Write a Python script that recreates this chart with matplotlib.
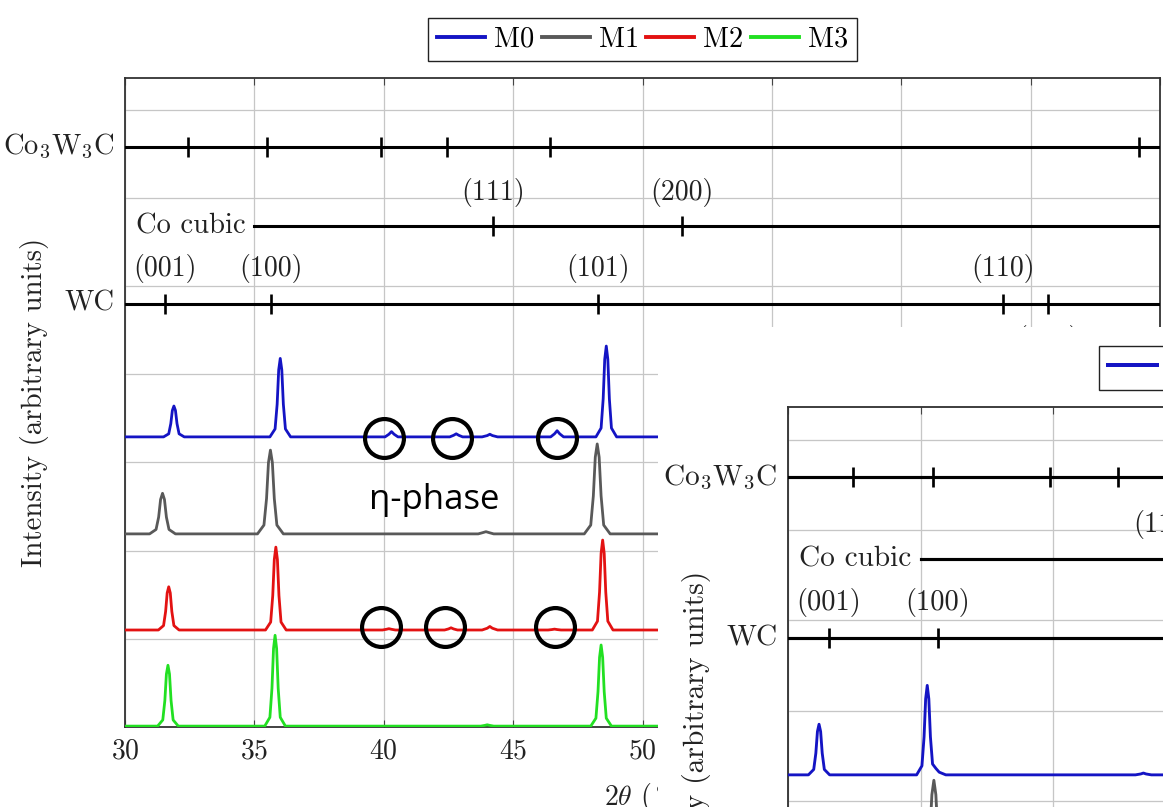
import numpy as np
import matplotlib
matplotlib.use('Agg')
import matplotlib.pyplot as plt
from matplotlib.lines import Line2D

plt.rcParams['font.family'] = 'cmr10'
plt.rcParams['mathtext.fontset'] = 'cm'
plt.rcParams['axes.unicode_minus'] = False
plt.rcParams['axes.formatter.use_mathtext'] = True

# --- data (2theta in degrees, intensity in arbitrary units) ---
names = ['M0', 'M1', 'M2', 'M3']
colors = ['#1414c4', '#595959', '#e31212', '#22e022']
offsets = [3.29, 2.19, 1.10, 0.01]

m0_x = [30, 31.49, 31.69, 31.77, 31.83, 31.89, 31.95, 32.01, 32.09, 32.29,
        35.6, 35.8, 35.88, 35.94, 36.0, 36.06, 36.12, 36.2, 36.4,
        40.05, 40.2, 40.3, 40.4, 40.55,
        42.55, 42.7, 42.8, 42.9, 43.05,
        43.8, 44.0, 44.1, 44.2, 44.4,
        46.45, 46.6, 46.7, 46.8, 46.95,
        48.2, 48.4, 48.48, 48.54, 48.6, 48.66, 48.72, 48.8, 49.0, 52]
m0_y = [0, 0, 0.035, 0.15, 0.30, 0.35, 0.30, 0.15, 0.035, 0,
        0, 0.09, 0.37, 0.76, 0.89, 0.76, 0.37, 0.09, 0,
        0, 0.03, 0.06, 0.03, 0,
        0, 0.018, 0.035, 0.018, 0,
        0, 0.015, 0.03, 0.015, 0,
        0, 0.035, 0.07, 0.035, 0,
        0, 0.1, 0.43, 0.88, 1.03, 0.88, 0.43, 0.1, 0, 0]

m1_x = [30, 30.95, 31.2, 31.3, 31.375, 31.45, 31.525, 31.6, 31.7, 31.95,
        35.12, 35.37, 35.47, 35.545, 35.62, 35.695, 35.77, 35.87, 36.12,
        43.65, 43.8, 43.95, 44.1, 44.25,
        47.75, 48.0, 48.1, 48.175, 48.25, 48.325, 48.4, 48.5, 48.75, 52]
m1_y = [0, 0, 0.05, 0.19, 0.39, 0.46, 0.39, 0.19, 0.05, 0,
        0, 0.1, 0.4, 0.81, 0.95, 0.81, 0.4, 0.1, 0,
        0, 0.012, 0.025, 0.012, 0,
        0, 0.1, 0.43, 0.87, 1.02, 0.87, 0.43, 0.1, 0, 0]

m2_x = [30, 31.29, 31.49, 31.57, 31.63, 31.69, 31.75, 31.81, 31.89, 32.09,
        35.43, 35.63, 35.71, 35.77, 35.83, 35.89, 35.95, 36.03, 36.23,
        39.95, 40.1, 40.2, 40.3, 40.45,
        42.35, 42.5, 42.6, 42.7, 42.85,
        43.8, 44.0, 44.1, 44.2, 44.4,
        46.35, 46.5, 46.6, 46.7, 46.85,
        48.06, 48.26, 48.34, 48.4, 48.46, 48.52, 48.58, 48.66, 48.86, 52]
m2_y = [0, 0, 0.05, 0.21, 0.42, 0.49, 0.42, 0.21, 0.05, 0,
        0, 0.09, 0.39, 0.8, 0.94, 0.8, 0.39, 0.09, 0,
        0, 0.008, 0.015, 0.008, 0,
        0, 0.012, 0.025, 0.012, 0,
        0, 0.02, 0.04, 0.02, 0,
        0, 0.005, 0.01, 0.005, 0,
        0, 0.1, 0.43, 0.87, 1.02, 0.87, 0.43, 0.1, 0, 0]

m3_x = [30, 31.26, 31.46, 31.54, 31.6, 31.66, 31.72, 31.78, 31.86, 32.06,
        35.4, 35.6, 35.68, 35.74, 35.8, 35.86, 35.92, 36.0, 36.2,
        43.75, 43.9, 44.0, 44.1, 44.25,
        48.0, 48.2, 48.28, 48.34, 48.4, 48.46, 48.52, 48.6, 48.8, 52]
m3_y = [0, 0, 0.07, 0.29, 0.59, 0.69, 0.59, 0.29, 0.07, 0,
        0, 0.1, 0.43, 0.88, 1.03, 0.88, 0.43, 0.1, 0,
        0, 0.008, 0.015, 0.008, 0,
        0, 0.09, 0.39, 0.78, 0.92, 0.78, 0.39, 0.09, 0, 0]

# second (overlaid) panel, only the visible part
b_m0_x = [30, 30.77, 30.97, 31.05, 31.11, 31.17, 31.23, 31.29, 31.37, 31.57,
          34.85, 35.05, 35.13, 35.19, 35.25, 35.31, 35.37, 35.45, 35.58, 35.7, 35.95,
          43.1, 43.3, 43.4, 43.5, 43.7, 50]
b_m0_y = [0, 0, 0.06, 0.24, 0.48, 0.56, 0.48, 0.24, 0.06, 0,
          0, 0.1, 0.42, 0.84, 0.99, 0.84, 0.42, 0.12, 0.07, 0.03, 0,
          0, 0.01, 0.02, 0.01, 0, 0]
b_m1_x = [30, 35.0, 35.25, 35.35, 35.425, 35.5, 35.575, 35.65, 35.75, 36.0, 50]
b_m1_y = [0, 0, 0.1, 0.44, 0.88, 1.04, 0.88, 0.44, 0.1, 0, 0]

# reference peak positions
co3w3c_pos = [32.45, 35.47, 39.88, 42.43, 46.41, 69.19]
cocub_pos = [44.23, 51.54]
cocub_lab = ['(111)', '(200)']
wc_pos = [31.53, 35.64, 48.28, 63.94, 65.68]
wc_lab = ['(001)', '(100)', '(101)', '(110)', '(002)']
wc_side = [1, 1, 1, 1, -1]
row_y = {'co3w3c': 6.58, 'cocub': 5.68, 'wc': 4.80}

eta_top_x = [40.0, 42.64, 46.70]
eta_bot_x = [39.9, 42.37, 46.62]
eta_top_y = 3.28
eta_bot_y = 1.13


def draw_panel(ax, curves, s):
    for (x, y, off, c) in curves:
        ax.plot(x, np.array(y) + off, color=c, lw=2.0 * s, zorder=3,
                solid_joinstyle='round')
    ax.set_xlim(30, 70)
    ax.set_ylim(0, 7.36)
    ax.set_xticks(range(30, 71, 5))
    ax.set_yticks(range(0, 8))
    ax.set_yticklabels([])
    ax.grid(color='#c6c6c6', lw=0.9 * s, zorder=0)
    ax.set_axisbelow(True)
    ax.tick_params(axis='x', direction='in', top=True, length=5 * s,
                   labelsize=20 * s, pad=8 * s, color='#444444', labelcolor='#222222')
    ax.tick_params(axis='y', length=0)
    for sp in ax.spines.values():
        sp.set_color('#333333')
        sp.set_linewidth(1.3 * s)

    lw = 2.2 * s
    ms = 14 * s
    mew = 1.9 * s
    fs = 20 * s
    # Co3W3C
    yc = row_y['co3w3c']
    ax.plot([30, 70], [yc, yc], color='black', lw=lw, zorder=4)
    ax.plot(co3w3c_pos, [yc] * len(co3w3c_pos), ls='none', marker='|',
            ms=ms, mew=mew, color='black', zorder=4)
    ax.text(-0.01, yc, 'Co$_3$W$_3$C', transform=ax.get_yaxis_transform(),
            ha='right', va='center', fontsize=fs * 1.03, color='#222222')
    # Co cubic
    yc = row_y['cocub']
    ax.plot([35, 70], [yc, yc], color='black', lw=lw, zorder=4)
    ax.plot(cocub_pos, [yc] * len(cocub_pos), ls='none', marker='|',
            ms=ms, mew=mew, color='black', zorder=4)
    ax.text(34.65, yc, 'Co cubic', ha='right', va='center', fontsize=fs * 1.03,
            color='#222222')
    for p, lab in zip(cocub_pos, cocub_lab):
        ax.text(p, yc + 0.38, lab, ha='center', va='center', fontsize=fs,
                color='#222222')
    # WC
    yc = row_y['wc']
    ax.plot([30, 70], [yc, yc], color='black', lw=lw, zorder=4)
    ax.plot(wc_pos, [yc] * len(wc_pos), ls='none', marker='|',
            ms=ms, mew=mew, color='black', zorder=4)
    ax.text(-0.01, yc, 'WC', transform=ax.get_yaxis_transform(),
            ha='right', va='center', fontsize=fs * 1.03, color='#222222')
    for p, lab, sd in zip(wc_pos, wc_lab, wc_side):
        ax.text(p, yc + 0.4 * sd, lab, ha='center', va='center', fontsize=fs,
                color='#222222')

    ax.set_ylabel('Intensity (arbitrary units)', fontsize=fs * 1.04, color='#222222')
    ax.yaxis.set_label_coords(-0.073, 0.5)
    ax.set_xlabel(r'$2\theta$ ($^\circ$)', fontsize=fs, color='#222222')
    ax.xaxis.set_label_coords(0.5, -0.083)

    handles = [Line2D([], [], color=c, lw=2.8 * s) for c in colors]
    ax.legend(handles, names, loc='lower center', bbox_to_anchor=(0.5, 1 + 17 / 649),
              ncol=4, fontsize=fs * 1.02, frameon=True, fancybox=False,
              edgecolor='#222222', framealpha=1, handlelength=1.7,
              handletextpad=0.32, columnspacing=0.25, borderpad=0.3, borderaxespad=0)


W, H = 1163, 807
fig = plt.figure(figsize=(W / 100, H / 100), dpi=100)

ax = fig.add_axes([125 / W, 1 - 727 / H, 1035 / W, 649 / H])
main_curves = [(m0_x, m0_y, offsets[0], colors[0]),
               (m1_x, m1_y, offsets[1], colors[1]),
               (m2_x, m2_y, offsets[2], colors[2]),
               (m3_x, m3_y, offsets[3], colors[3])]
draw_panel(ax, main_curves, 1.0)

# eta-phase markers
ax.plot(eta_top_x, [eta_top_y] * 3, ls='none', marker='o', ms=28, mfc='none',
        mec='black', mew=3, zorder=5)
ax.plot(eta_bot_x, [eta_bot_y] * 3, ls='none', marker='o', ms=28, mfc='none',
        mec='black', mew=3, zorder=5)
ax.text(41.95, 2.57, 'η-phase', ha='center', va='center', fontsize=25,
        family=['Open Sans', 'DejaVu Sans'], color='black', zorder=6)

# white cover for the overlaid copy
cover = fig.add_axes([658 / W, 0, (W - 658) / W, (H - 327) / H], zorder=1)
cover.set_facecolor('white')
cover.set_xticks([])
cover.set_yticks([])
for sp in cover.spines.values():
    sp.set_visible(False)

s2 = 1.025
ax2 = fig.add_axes([788 / W, 1 - (407 + 649 * s2) / H, 1035 * s2 / W, 649 * s2 / H],
                   zorder=2)
ins_curves = [(b_m0_x, b_m0_y, offsets[0], colors[0]),
              (b_m1_x, b_m1_y, offsets[1], colors[1])]
draw_panel(ax2, ins_curves, s2)

fig.savefig('out.png', dpi=100)
